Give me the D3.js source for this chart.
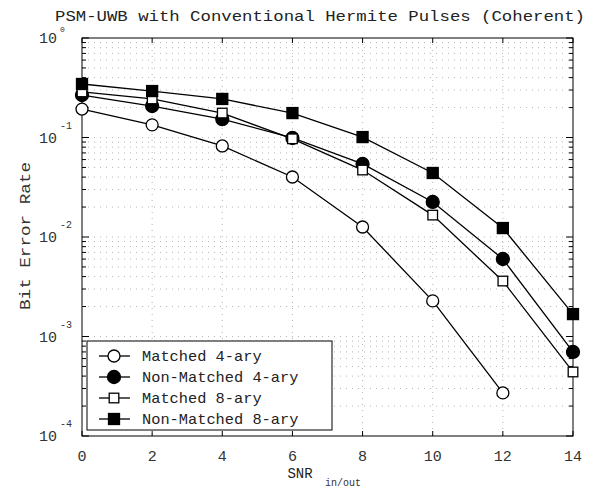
<!DOCTYPE html>
<html><head><meta charset="utf-8">
<script src="https://cdn.jsdelivr.net/npm/d3@7"></script>
<style>body{margin:0;background:#fff}svg{display:block}</style>
</head><body>
<svg id="c" width="599" height="490"></svg>
<script>
const snr = [0, 2, 4, 6, 8, 10, 12, 14];
const matched4 = [0.193, 0.134, 0.0822, 0.0401, 0.0126, 0.00228, 0.000271];
const nonMatched4 = [0.267, 0.207, 0.153, 0.0989, 0.0542, 0.0225, 0.00601, 0.000699];
const matched8 = [0.287, 0.244, 0.176, 0.097, 0.0471, 0.0166, 0.00361, 0.00044];
const nonMatched8 = [0.345, 0.293, 0.244, 0.176, 0.101, 0.044, 0.0123, 0.00168];
const seriesNames = ["Matched 4-ary", "Non-Matched 4-ary", "Matched 8-ary", "Non-Matched 8-ary"];
const xTicks = [0, 2, 4, 6, 8, 10, 12, 14];
const yDecades = [0, -1, -2, -3, -4];
const titleText = "PSM-UWB with Conventional Hermite Pulses (Coherent)";

const series = [
  {name: seriesNames[0], vals: matched4, marker: "circle", fill: false},
  {name: seriesNames[1], vals: nonMatched4, marker: "circle", fill: true},
  {name: seriesNames[2], vals: matched8, marker: "square", fill: false},
  {name: seriesNames[3], vals: nonMatched8, marker: "square", fill: true}
];

const FONT = "'Liberation Mono', 'DejaVu Sans Mono', monospace";
const svg = d3.select("#c");
const L = 82, R = 573, T = 38, B = 436;
const x = d3.scaleLinear().domain([0, 14]).range([L, R]);
const y = d3.scaleLog().domain([1e-4, 1]).range([B, T]);

// grid
const grid = svg.append("g").attr("stroke", "#b5b5b5").attr("stroke-width", 1).attr("stroke-dasharray", "1,5");
xTicks.slice(1, -1).forEach(t => {
  grid.append("line").attr("x1", x(t)).attr("x2", x(t)).attr("y1", T).attr("y2", B);
});
const minorVals = [];
yDecades.slice(1).forEach(e => { for (let k = 1; k <= 9; k++) minorVals.push(k * Math.pow(10, e)); });
minorVals.forEach(v => {
  if (v >= 1 || v <= 1e-4) return;
  grid.append("line").attr("x1", L).attr("x2", R).attr("y1", y(v)).attr("y2", y(v));
});

// frame
svg.append("rect").attr("x", L).attr("y", T).attr("width", R - L).attr("height", B - T)
  .attr("fill", "none").attr("stroke", "#000").attr("stroke-width", 1);

// x ticks (inside, top and bottom)
const ax = svg.append("g").attr("stroke", "#000").attr("stroke-width", 1);
xTicks.forEach(t => {
  ax.append("line").attr("x1", x(t)).attr("x2", x(t)).attr("y1", B).attr("y2", B - 5);
  ax.append("line").attr("x1", x(t)).attr("x2", x(t)).attr("y1", T).attr("y2", T + 5);
});
// y ticks
minorVals.concat([1]).forEach(v => {
  const major = Math.abs(Math.log10(v) - Math.round(Math.log10(v))) < 1e-9;
  const len = major ? 7 : 4;
  ax.append("line").attr("x1", L).attr("x2", L + len).attr("y1", y(v)).attr("y2", y(v));
  ax.append("line").attr("x1", R).attr("x2", R - len).attr("y1", y(v)).attr("y2", y(v));
});

// x tick labels
svg.append("g").selectAll("text").data(xTicks).join("text")
  .attr("x", d => x(d)).attr("y", 461).attr("text-anchor", "middle")
  .attr("font-family", FONT).attr("font-size", 15).attr("fill", "#333").text(d => d);

// y tick labels
const yl = svg.append("g").attr("font-family", FONT).attr("fill", "#333");
yDecades.forEach(e => {
  const yy = y(Math.pow(10, e));
  yl.append("text").attr("x", 57).attr("y", yy + 5).attr("text-anchor", "end").attr("font-size", 15).text("10");
  yl.append("text").attr("x", 60).attr("y", e === 0 ? yy - 6 : yy - 9).attr("font-size", e === 0 ? 8 : 10).text(e === 0 ? "0" : String(e));
});

// axis titles
svg.append("text").attr("x", 320).attr("y", 21).attr("text-anchor", "middle")
  .attr("font-family", FONT).attr("font-size", 15).attr("fill", "#222")
  .attr("textLength", 530).attr("lengthAdjust", "spacingAndGlyphs").text(titleText);
svg.append("text").attr("transform", "translate(30,236) rotate(-90)").attr("text-anchor", "middle")
  .attr("font-family", FONT).attr("font-size", 15).attr("fill", "#333")
  .attr("textLength", 148).attr("lengthAdjust", "spacingAndGlyphs").text("Bit Error Rate");
svg.append("text").attr("x", 300).attr("y", 478).attr("text-anchor", "middle")
  .attr("font-family", FONT).attr("font-size", 14).attr("fill", "#222").text("SNR");
svg.append("text").attr("x", 343).attr("y", 486).attr("text-anchor", "middle")
  .attr("font-family", FONT).attr("font-size", 10).attr("fill", "#333").text("in/out");

// marker drawer
function drawMarker(g, s, cx, cy) {
  if (s.marker === "circle") {
    g.append("circle").attr("cx", cx).attr("cy", cy).attr("r", s.fill ? 6.5 : 6)
      .attr("fill", s.fill ? "#000" : "#fff").attr("stroke", "#000").attr("stroke-width", 1.3);
  } else {
    const h = s.fill ? 5.5 : 4.8;
    g.append("rect").attr("x", cx - h).attr("y", cy - h).attr("width", 2 * h).attr("height", 2 * h)
      .attr("fill", s.fill ? "#000" : "#fff").attr("stroke", "#000").attr("stroke-width", 1.3);
  }
}

const line = d3.line().x(d => x(d[0])).y(d => y(d[1]));
const plot = svg.append("g");
series.forEach(s => {
  const pts = s.vals.map((v, i) => [snr[i], v]);
  plot.append("path").attr("d", line(pts)).attr("fill", "none").attr("stroke", "#000").attr("stroke-width", 1.3);
});
series.forEach(s => {
  s.vals.forEach((v, i) => drawMarker(plot, s, x(snr[i]), y(v)));
});

// legend
const lg = svg.append("g");
lg.append("rect").attr("x", 87).attr("y", 341).attr("width", 245).attr("height", 89)
  .attr("fill", "#fff").attr("stroke", "#000").attr("stroke-width", 1);
series.forEach((s, i) => {
  const yy = 356 + i * 21;
  lg.append("line").attr("x1", 99).attr("x2", 130).attr("y1", yy).attr("y2", yy).attr("stroke", "#000").attr("stroke-width", 1.3);
  drawMarker(lg, s, 114, yy);
  lg.append("text").attr("x", 142).attr("y", yy + 5).attr("font-family", FONT).attr("font-size", 15)
    .attr("fill", "#222").attr("textLength", s.name.length * 9.2).attr("lengthAdjust", "spacingAndGlyphs").text(s.name);
});
</script>
</body></html>
